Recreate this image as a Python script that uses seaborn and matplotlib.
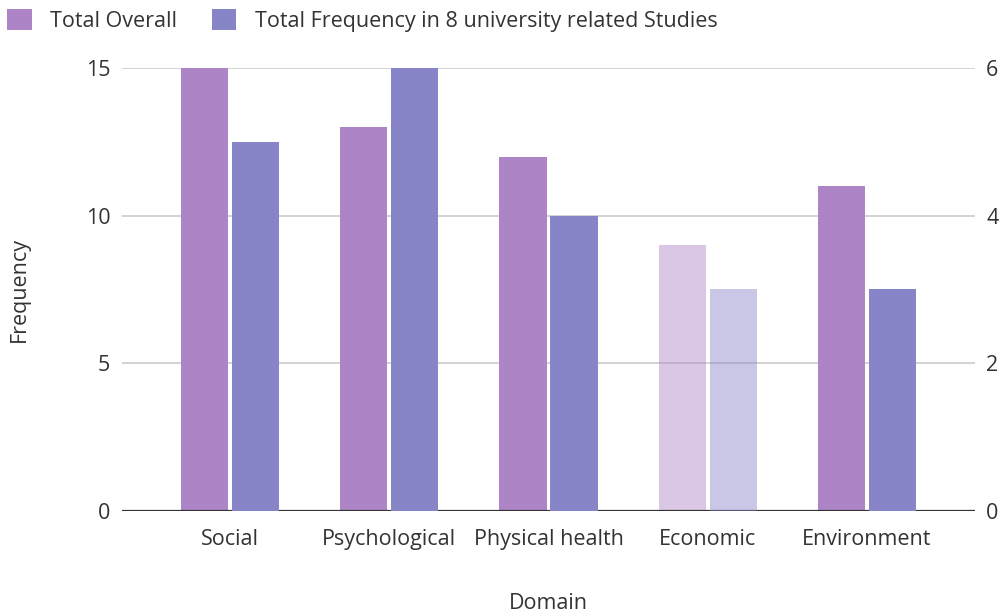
import matplotlib
matplotlib.use("Agg")
import matplotlib.pyplot as plt
from matplotlib.patches import Patch
import seaborn as sns
import pandas as pd

domains = ["Social", "Psychological", "Physical health", "Economic", "Environment"]
total_overall = [15, 13, 12, 9, 11]
university_studies = [5, 6, 4, 3, 3]
left_ticks = [0, 5, 10, 15]
right_ticks = [0, 2, 4, 6]
faded_domain = "Economic"

purple = "#AD84C6"
blue = "#8784C7"
text_color = "#333333"
fs = 15.5

sns.set_theme(style="white")
plt.rcParams["font.family"] = ["Open Sans", "DejaVu Sans"]

df = pd.DataFrame({"Domain": domains, "Overall": total_overall, "Studies": university_studies})

fig = plt.figure(figsize=(9.99, 6.14), dpi=100)
ax = fig.add_axes([0.1221, 0.1678, 0.8539, 0.7215])
ax2 = ax.twinx()

sns.barplot(data=df, x="Domain", y="Overall", color=purple, saturation=1, ax=ax, zorder=3)
sns.barplot(data=df, x="Domain", y="Studies", color=blue, saturation=1, ax=ax2, zorder=3)

bar_w = 0.296
offset = 0.16
for axis, shift in ((ax, -offset), (ax2, offset)):
    for i, p in enumerate(axis.patches):
        p.set_width(bar_w)
        p.set_x(i + shift - bar_w / 2)
        p.set_edgecolor("none")
        if domains[i] == faded_domain:
            p.set_alpha(0.45)

ax.set_xlim(-0.68, 4.68)
ax.set_ylim(0, 15)
ax2.set_ylim(0, 6)
ax.set_yticks(left_ticks)
ax2.set_yticks(right_ticks)

ax.yaxis.grid(True, color="#cccccc", linewidth=1.2, zorder=0)
ax.set_axisbelow(True)
ax.axhline(0, color="#333333", linewidth=1.6, zorder=5)

for a in (ax, ax2):
    for s in a.spines.values():
        s.set_visible(False)
    a.tick_params(axis="both", length=0, labelsize=fs, colors=text_color)
    a.set_xlabel("")
    a.set_ylabel("")

ax.tick_params(axis="y", pad=8.5)
ax2.tick_params(axis="y", pad=8)
ax.tick_params(axis="x", pad=13)

ax.set_ylabel("Frequency", fontsize=fs, color=text_color, labelpad=40)
ax.set_xlabel("Domain", fontsize=fs, color=text_color, labelpad=31)

handles = [Patch(facecolor=purple, edgecolor="none"), Patch(facecolor=blue, edgecolor="none")]
fig.legend(handles, ["Total Overall", "Total Frequency in 8 university related Studies"],
           loc="upper left", bbox_to_anchor=(-0.006, 1.007), ncol=2, frameon=False,
           fontsize=fs, handlelength=1.15, handleheight=1.15, handletextpad=0.86,
           columnspacing=1.6, labelcolor=text_color, borderaxespad=0.2)

fig.savefig("out.png", dpi=100)
